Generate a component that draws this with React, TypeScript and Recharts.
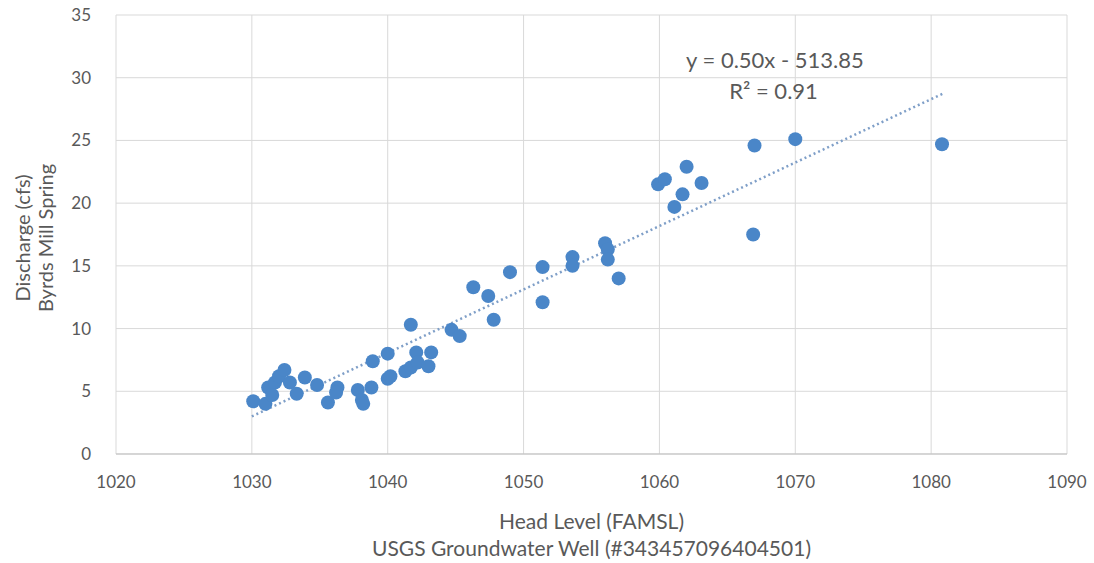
import React from 'react';
import {
  ScatterChart, Scatter, XAxis, YAxis, CartesianGrid, ReferenceDot
} from 'recharts';

// head level (ft above MSL) vs spring discharge (cfs)
const headLevel = [
  1030.1, 1031.0, 1031.2, 1031.7, 1032.0, 1032.4, 1031.5, 1032.8, 1033.3, 1033.9,
  1034.8, 1035.6, 1036.3, 1036.2, 1037.8, 1038.1, 1038.2, 1038.8, 1038.9, 1040.0,
  1040.0, 1040.2, 1041.3, 1041.7, 1041.7, 1042.1, 1042.2, 1043.0, 1043.2, 1044.7,
  1045.3, 1046.3, 1047.4, 1047.8, 1049.0, 1051.4, 1051.4, 1053.6, 1053.6, 1056.0,
  1056.2, 1056.2, 1057.0, 1059.9, 1060.4, 1062.0, 1061.7, 1061.1, 1063.1, 1067.0,
  1066.9, 1070.0, 1080.8,
];
const discharge = [
  4.2, 4.0, 5.3, 5.7, 6.2, 6.7, 4.7, 5.7, 4.8, 6.1,
  5.5, 4.1, 5.3, 4.9, 5.1, 4.3, 4.0, 5.3, 7.4, 8.0,
  6.0, 6.2, 6.6, 6.9, 10.3, 8.1, 7.3, 7.0, 8.1, 9.9,
  9.4, 13.3, 12.6, 10.7, 14.5, 14.9, 12.1, 15.7, 15.0, 16.8,
  16.3, 15.5, 14.0, 21.5, 21.9, 22.9, 20.7, 19.7, 21.6, 24.6,
  17.5, 25.1, 24.7,
];

// linear trendline ends, as drawn
const trendX = [1030, 1081];
const trendY = [3.0, 28.8];

const xTicks = [1020, 1030, 1040, 1050, 1060, 1070, 1080, 1090];
const yTicks = [0, 5, 10, 15, 20, 25, 30, 35];

const equationText = 'y = 0.50x - 513.85';
const r2Text = 'R² = 0.91';

const points = headLevel.map((x, i) => ({ x, y: discharge[i] }));
const trend = trendX.map((x, i) => ({ x, y: trendY[i] }));

const FONT = 'Lato, "Open Sans", sans-serif';
const TEXT = '#595959';

const XLabel = (props: any) => {
  const vb = props.viewBox || {};
  const cx = vb.x + vb.width / 2;
  return (
    <g fontFamily={FONT} fontSize={21} fill={TEXT} textAnchor="middle">
      <text x={cx} y={vb.y + 75}>Head Level (FAMSL)</text>
      <text x={cx} y={vb.y + 102}>USGS Groundwater Well (#343457096404501)</text>
    </g>
  );
};

const YLabel = () => {
  const cy = 238;
  return (
    <g fontFamily={FONT} fontSize={20} fill={TEXT} textAnchor="middle">
      <text x={30} y={cy} transform={`rotate(-90 30 ${cy})`}>Discharge (cfs)</text>
      <text x={53} y={cy} transform={`rotate(-90 53 ${cy})`}>Byrds Mill Spring</text>
    </g>
  );
};

export default function App() {
  return (
    <div style={{ position: 'absolute', left: 0, top: 0, background: '#fff' }}>
      <ScatterChart width={1094} height={563} margin={{ top: 15, right: 27, bottom: 0, left: 0 }}>
        <CartesianGrid stroke="#d9d9d9" strokeWidth={1} />
        <XAxis
          type="number"
          dataKey="x"
          domain={[1020, 1090]}
          ticks={xTicks}
          height={109}
          tickLine={false}
          axisLine={{ stroke: '#bfbfbf' }}
          tick={{ fill: TEXT, fontSize: 17, fontFamily: FONT }}
          tickMargin={16}
          label={<XLabel />}
        />
        <YAxis
          type="number"
          dataKey="y"
          domain={[0, 35]}
          ticks={yTicks}
          width={116}
          tickLine={false}
          axisLine={false}
          tick={{ fill: TEXT, fontSize: 17, fontFamily: FONT }}
          tickMargin={19}
          label={<YLabel />}
        />
        <Scatter
          data={trend}
          line={{ stroke: '#7f9fc8', strokeWidth: 2.5, strokeDasharray: '2 3' }}
          shape={() => <g />}
          isAnimationActive={false}
        />
        <Scatter data={points} fill="#4a86c8" isAnimationActive={false}
          shape={(p: any) => <circle cx={p.cx} cy={p.cy} r={7} fill="#4a86c8" />} />
        <ReferenceDot x={1068.5} y={31.4} r={0} fill="none" stroke="none"
          label={{ value: equationText, fill: TEXT, fontSize: 22, fontFamily: FONT, position: 'center' }} />
        <ReferenceDot x={1068.4} y={28.9} r={0} fill="none" stroke="none"
          label={{ value: r2Text, fill: TEXT, fontSize: 22, fontFamily: FONT, position: 'center' }} />
      </ScatterChart>
    </div>
  );
}
